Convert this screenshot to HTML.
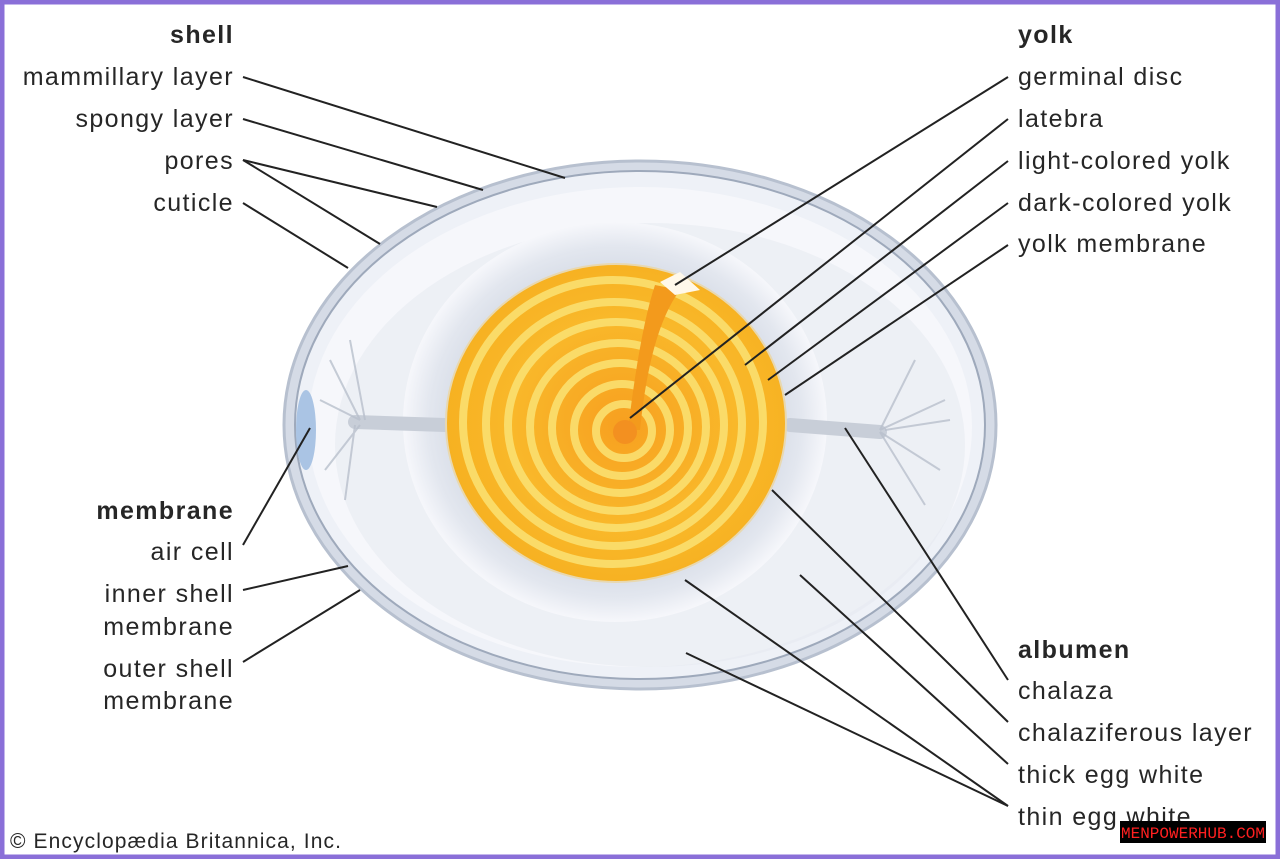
<!DOCTYPE html>
<html><head><meta charset="utf-8"><style>
html,body{margin:0;padding:0;background:#fff}
body{width:1280px;height:859px;overflow:hidden}
svg text{font-family:"Liberation Sans",sans-serif;font-size:25px;letter-spacing:1.4px;fill:#262626}
</style></head><body>
<svg width="1280" height="859" viewBox="0 0 1280 859" xmlns="http://www.w3.org/2000/svg">
<defs>
<radialGradient id="yg" cx="0.52" cy="0.5" r="0.55">
<stop offset="0" stop-color="#f7a020"/><stop offset="0.6" stop-color="#f9b82a"/><stop offset="1" stop-color="#f6b020"/>
</radialGradient>
<radialGradient id="wg" cx="0.5" cy="0.5" r="0.5">
<stop offset="0.7" stop-color="#d3d9e4"/><stop offset="0.88" stop-color="#e3e7ef"/><stop offset="1" stop-color="#f6f7fb"/>
</radialGradient>
</defs>
<rect x="2" y="2" width="1276" height="855" fill="#fff" stroke="#8a6fd8" stroke-width="5"/>
<!-- egg -->
<ellipse cx="640" cy="425" rx="356" ry="264" fill="#d5dbe6" stroke="#b7c0cf" stroke-width="3"/>
<ellipse cx="640" cy="425" rx="345" ry="254" fill="#eef1f7" stroke="#9ea9bb" stroke-width="2"/>
<ellipse cx="640" cy="427" rx="332" ry="240" fill="#f6f7fb"/>
<ellipse cx="650" cy="445" rx="315" ry="222" fill="#e2e6ee" opacity="0.45"/>
<ellipse cx="615" cy="422" rx="212" ry="200" fill="url(#wg)"/>
<ellipse cx="306" cy="430" rx="10" ry="40" fill="#aac4e4"/>
<!-- chalazae -->
<g stroke="#c8ced8" stroke-width="14" stroke-linecap="round" fill="none">
<path d="M355 422 L445 425"/><path d="M790 425 L880 432"/>
</g>
<g stroke="#b8bfcc" stroke-width="2" fill="none" opacity="0.8">
<path d="M360 420 L330 360 M360 420 L320 400 M360 425 L325 470 M355 425 L345 500 M365 420 L350 340"/>
<path d="M880 430 L915 360 M880 430 L945 400 M880 432 L940 470 M880 432 L925 505 M885 430 L950 420"/>
</g>
<!-- yolk -->
<ellipse cx="616" cy="423" rx="170" ry="159" fill="url(#yg)" stroke="#e8d8b0" stroke-width="2"/>
<g fill="none" stroke="#fbe070" stroke-width="8" opacity="0.9">
<ellipse cx="613" cy="422" rx="150" ry="142"/>
<ellipse cx="614" cy="424" rx="128" ry="122"/>
<ellipse cx="616" cy="425" rx="108" ry="103"/>
<ellipse cx="618" cy="427" rx="88" ry="84"/>
<ellipse cx="620" cy="428" rx="68" ry="65"/>
<ellipse cx="622" cy="430" rx="48" ry="46"/>
<ellipse cx="624" cy="431" rx="28" ry="27"/>
</g>
<path d="M655 285 Q640 330 628 430 L640 430 Q650 330 680 290 Z" fill="#f39a1c"/>
<path d="M660 282 L680 272 L700 290 L675 295 Z" fill="#fff8ea"/>
<circle cx="625" cy="432" r="12" fill="#f39020"/>
<!-- leader lines -->
<g stroke="#222" stroke-width="2" fill="none">
<path d="M243 77 L565 178"/><path d="M243 119 L483 190"/>
<path d="M243 160 L437 207"/><path d="M243 160 L380 244"/>
<path d="M243 203 L348 268"/>
<path d="M243 545 L310 428"/><path d="M243 590 L348 566"/><path d="M243 662 L360 590"/>
<path d="M1008 77 L675 285"/><path d="M1008 119 L630 418"/><path d="M1008 161 L745 365"/>
<path d="M1008 203 L768 380"/><path d="M1008 245 L785 395"/>
<path d="M1008 680 L845 428"/><path d="M1008 722 L772 490"/><path d="M1008 764 L800 575"/>
<path d="M1008 806 L685 580"/><path d="M1008 806 L686 653"/>
</g>
<!-- labels -->
<g text-anchor="end">
<text x="234" y="43" font-weight="bold">shell</text>
<text x="234" y="85">mammillary layer</text>
<text x="234" y="127">spongy layer</text>
<text x="234" y="169">pores</text>
<text x="234" y="211">cuticle</text>
<text x="234" y="519" font-weight="bold">membrane</text>
<text x="234" y="560">air cell</text>
<text x="234" y="602">inner shell</text>
<text x="234" y="635">membrane</text>
<text x="234" y="677">outer shell</text>
<text x="234" y="709">membrane</text>
</g>
<g>
<text x="1018" y="43" font-weight="bold">yolk</text>
<text x="1018" y="85">germinal disc</text>
<text x="1018" y="127">latebra</text>
<text x="1018" y="169">light-colored yolk</text>
<text x="1018" y="211">dark-colored yolk</text>
<text x="1018" y="252">yolk membrane</text>
<text x="1018" y="658" font-weight="bold">albumen</text>
<text x="1018" y="699">chalaza</text>
<text x="1018" y="741">chalaziferous layer</text>
<text x="1018" y="783">thick egg white</text>
<text x="1018" y="825">thin egg white</text>
<text x="10" y="848" style="font-size:21px;letter-spacing:1.1px">© Encyclopædia Britannica, Inc.</text>
</g>
<rect x="1120" y="821" width="146" height="22" fill="#000"/>
<text x="1193" y="838" text-anchor="middle" style="font-family:'Liberation Mono',monospace;font-size:16px;letter-spacing:0;fill:#ff2020">MENPOWERHUB.COM</text>
</svg>
</body></html>
